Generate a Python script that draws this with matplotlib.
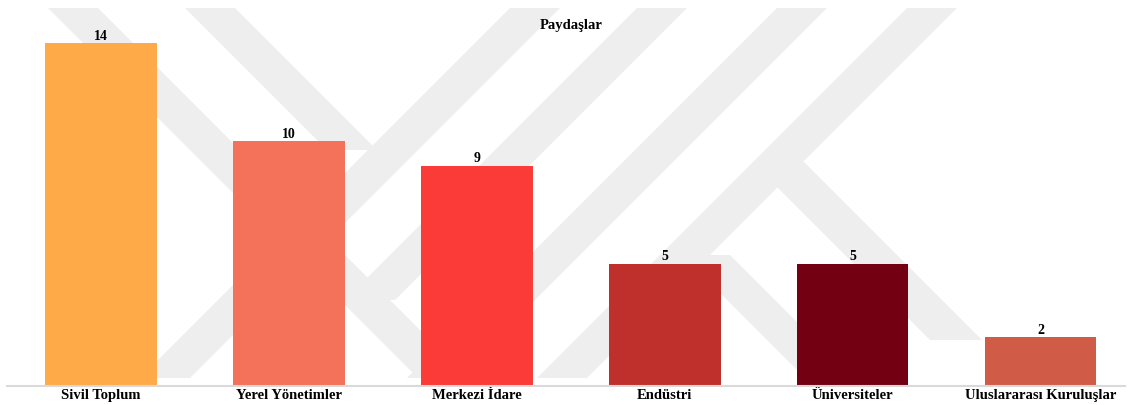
import matplotlib.pyplot as plt
from matplotlib.patches import Polygon

# veri
kategoriler = ['Sivil Toplum', 'Yerel Yönetimler', 'Merkezi İdare',
               'Endüstri', 'Üniversiteler', 'Uluslararası Kuruluşlar']
degerler = [14, 10, 9, 5, 5, 2]
renkler = ['#FEAA48', '#F47259', '#FA3B38', '#BF2F2B', '#720012', '#D05C47']
baslik = 'Paydaşlar'

W, H = 1130, 405
plt.rcParams['font.family'] = ['Liberation Serif', 'DejaVu Serif']
plt.rcParams['font.weight'] = 'bold'

fig = plt.figure(figsize=(W / 100, H / 100), dpi=100)
fig.patch.set_facecolor('white')

# arka plandaki soluk filigran (piksel koordinatlari, 45 derece seritler)
def serit(x_sol, y_ust, y_alt, yon, genislik=50):
    d = y_alt - y_ust
    pts = [(x_sol, y_ust), (x_sol + genislik, y_ust),
           (x_sol + genislik + yon * d, y_alt), (x_sol + yon * d, y_alt)]
    pts = [(x / W, 1 - y / H) for x, y in pts]
    fig.add_artist(Polygon(pts, closed=True, transform=fig.transFigure,
                           facecolor='#eeeeee', edgecolor='none', zorder=-5))

serit(48, 8, 378, 1)
serit(185, 8, 150, 1)
serit(510, 8, 378, -1)
serit(637, 8, 300, -1)
serit(777, 8, 378, -1)
serit(907, 8, 378, -1)
serit(752, 162, 340, 1, 52)
serit(682, 255, 378, 1, 48)

ax = fig.add_axes([7 / W, (H - 386) / H, (1125 - 7) / W, (386 - 18.5) / H])
ax.patch.set_alpha(0)

x = range(len(kategoriler))
bars = ax.bar(x, degerler, width=0.595, color=renkler, zorder=2)
for b, v in zip(bars, degerler):
    ax.text(b.get_x() + b.get_width() / 2, v + 0.02, str(v),
            ha='center', va='bottom', fontsize=10, fontweight='bold')

ax.set_xlim(-0.5, 5.45)
ax.set_ylim(0, 15)
ax.set_xticks(list(x))
ax.set_xticklabels(kategoriler, fontsize=10.5, fontweight='bold')
ax.tick_params(axis='x', length=0, pad=2)
ax.set_yticks([])
for s in ['top', 'right', 'left']:
    ax.spines[s].set_visible(False)
ax.spines['bottom'].set_color('#d9d9d9')
ax.spines['bottom'].set_linewidth(1.5)

fig.text(571 / W, 1 - 25 / H, baslik, ha='center', va='center',
         fontsize=10.5, fontweight='bold')

fig.savefig('out.png', dpi=100)
